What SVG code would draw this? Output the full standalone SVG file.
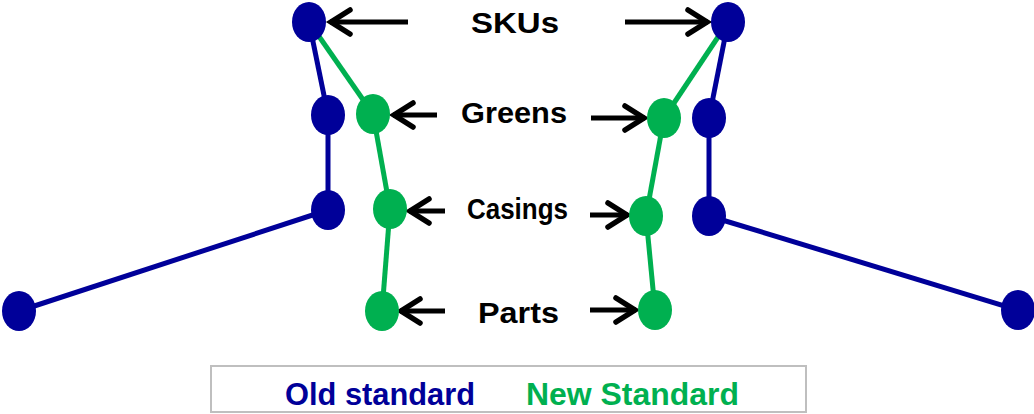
<svg xmlns="http://www.w3.org/2000/svg" width="1034" height="414" viewBox="0 0 1034 414">
  <style>
    .old { fill: #000099; }
    .new { fill: #00b050; }
    .edge-old { stroke: #000099; stroke-width: 5; fill: none; }
    .edge-new { stroke: #00b050; stroke-width: 5; fill: none; }
    .ptr { stroke: #000; stroke-width: 5; fill: none; marker-end: url(#chevron); }
    .lbl { font-family: "Liberation Sans", Arial, sans-serif; font-weight: bold; font-size: 29px; fill: #000; }
    .key { font-family: "Liberation Sans", Arial, sans-serif; font-weight: bold; font-size: 31px; }
  </style>
  <defs>
    <marker id="chevron" markerUnits="userSpaceOnUse" viewBox="-26 -16 30 32" refX="0" refY="0" markerWidth="30" markerHeight="32" orient="auto" overflow="visible">
      <path d="M-20,-12 L-1,0 L-20,12" stroke="#000" stroke-width="5.5" fill="none" stroke-linecap="round"/>
    </marker>
  </defs>
  <rect width="1034" height="414" fill="#fff"/>

  <!-- hierarchy links -->
  <g id="connectors">
    <!-- left tree -->
    <line class="edge-old" x1="309" y1="22" x2="328" y2="115"/>
    <line class="edge-old" x1="328" y1="115" x2="328" y2="210"/>
    <line class="edge-old" x1="328" y1="210" x2="19" y2="311"/>
    <line class="edge-new" x1="309" y1="22" x2="373" y2="114"/>
    <line class="edge-new" x1="373" y1="114" x2="390" y2="209"/>
    <line class="edge-new" x1="390" y1="209" x2="382" y2="311"/>
    <!-- right tree -->
    <line class="edge-old" x1="728" y1="22" x2="709" y2="118"/>
    <line class="edge-old" x1="709" y1="118" x2="709" y2="216"/>
    <line class="edge-old" x1="709" y1="216" x2="1018" y2="310"/>
    <line class="edge-new" x1="728" y1="22" x2="664" y2="118"/>
    <line class="edge-new" x1="664" y1="118" x2="646" y2="216"/>
    <line class="edge-new" x1="646" y1="216" x2="655" y2="310"/>
    <!-- level pointers -->
    <line class="ptr" x1="408" y1="22" x2="330" y2="22"/>
    <line class="ptr" x1="625" y1="22" x2="708" y2="22"/>
    <line class="ptr" x1="437" y1="115" x2="393" y2="115"/>
    <line class="ptr" x1="591" y1="118" x2="645" y2="118"/>
    <line class="ptr" x1="445" y1="211" x2="409" y2="211"/>
    <line class="ptr" x1="590" y1="215" x2="628" y2="215"/>
    <line class="ptr" x1="445" y1="311" x2="400" y2="311"/>
    <line class="ptr" x1="590" y1="310" x2="636" y2="310"/>
  </g>

  <!-- left tree nodes -->
  <g id="l-sku"><ellipse class="old" cx="309" cy="22" rx="17" ry="20"/></g>
  <g id="l-old-2"><ellipse class="old" cx="328" cy="115" rx="17" ry="20"/></g>
  <g id="l-old-3"><ellipse class="old" cx="328" cy="210" rx="17" ry="20"/></g>
  <g id="l-old-4"><ellipse class="old" cx="19" cy="311" rx="17" ry="20"/></g>
  <g id="l-greens"><ellipse class="new" cx="373" cy="114" rx="17" ry="20"/></g>
  <g id="l-casings"><ellipse class="new" cx="390" cy="209" rx="17" ry="20"/></g>
  <g id="l-parts"><ellipse class="new" cx="382" cy="311" rx="17" ry="20"/></g>

  <!-- right tree nodes -->
  <g id="r-sku"><ellipse class="old" cx="728" cy="22" rx="17" ry="20"/></g>
  <g id="r-old-2"><ellipse class="old" cx="709" cy="118" rx="17" ry="20"/></g>
  <g id="r-old-3"><ellipse class="old" cx="709" cy="216" rx="17" ry="20"/></g>
  <g id="r-old-4"><ellipse class="old" cx="1018" cy="310" rx="17" ry="20"/></g>
  <g id="r-greens"><ellipse class="new" cx="664" cy="118" rx="17" ry="20"/></g>
  <g id="r-casings"><ellipse class="new" cx="646" cy="216" rx="17" ry="20"/></g>
  <g id="r-parts"><ellipse class="new" cx="655" cy="310" rx="17" ry="20"/></g>

  <!-- level labels -->
  <g id="labels">
    <text class="lbl" x="471" y="33" textLength="88" lengthAdjust="spacingAndGlyphs">SKUs</text>
    <text class="lbl" x="461" y="123" textLength="106" lengthAdjust="spacingAndGlyphs">Greens</text>
    <text class="lbl" x="467" y="219" font-size="26" textLength="101" lengthAdjust="spacingAndGlyphs">Casings</text>
    <text class="lbl" x="478" y="323" textLength="81" lengthAdjust="spacingAndGlyphs">Parts</text>
  </g>

  <!-- legend -->
  <g id="legend">
    <rect x="211" y="366" width="595" height="46" fill="#fff" stroke="#bfbfbf" stroke-width="2"/>
    <text class="key old" x="285" y="405" textLength="190" lengthAdjust="spacingAndGlyphs">Old standard</text>
    <text class="key new" x="526" y="405" textLength="213" lengthAdjust="spacingAndGlyphs">New Standard</text>
  </g>
</svg>
